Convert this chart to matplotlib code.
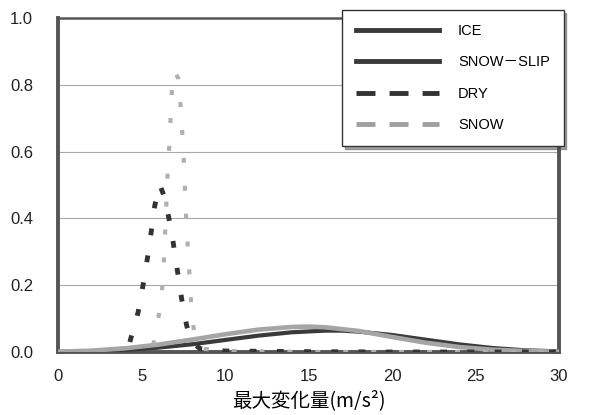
import numpy as np
import matplotlib
matplotlib.use('Agg')
import matplotlib.pyplot as plt

plt.rcParams['font.family'] = ['Liberation Sans', 'Noto Sans CJK JP', 'DejaVu Sans']

# bell shaped series
ice_x = [0, 2, 4, 6, 8, 10, 12, 14, 16, 17, 18, 20, 22, 24, 26, 28, 30]
ice_y = [0.0, 0.002, 0.006, 0.013, 0.023, 0.036, 0.049, 0.059, 0.064, 0.064,
         0.061, 0.051, 0.037, 0.023, 0.012, 0.005, 0.002]

slip_x = [0, 2, 4, 6, 8, 10, 12, 14, 15, 16, 18, 20, 22, 24, 26, 28, 30]
slip_y = [0.001, 0.004, 0.011, 0.022, 0.037, 0.053, 0.067, 0.075, 0.076, 0.074,
          0.063, 0.045, 0.028, 0.015, 0.007, 0.003, 0.001]

# narrow peaks
dry_x = [4.3, 4.8, 5.2, 5.5, 5.8, 6.1, 6.4, 6.8, 7.1, 7.4, 7.7, 8.0, 8.5, 10, 15, 20, 25, 30]
dry_y = [0.03, 0.12, 0.23, 0.33, 0.44, 0.50, 0.46, 0.36, 0.26, 0.16, 0.08, 0.03,
         0.01, 0.003, 0.001, 0.0, 0.0, 0.0]

snow_x = [5.7, 6.0, 6.2, 6.35, 6.45, 6.55, 6.7, 6.8, 6.95, 7.2, 7.35, 7.5, 7.6,
          7.7, 7.85, 8.0, 8.2, 8.6, 10, 15, 20, 25, 30]
snow_y = [0.02, 0.10, 0.16, 0.28, 0.40, 0.52, 0.65, 0.77, 0.84, 0.82, 0.73, 0.61,
          0.49, 0.37, 0.25, 0.12, 0.04, 0.01, 0.003, 0.0, 0.0, 0.0, 0.0]

labels = ['ICE', 'SNOW－SLIP', 'DRY', 'SNOW']
xticks = [0, 5, 10, 15, 20, 25, 30]
yticks = [0.0, 0.2, 0.4, 0.6, 0.8, 1.0]

fig = plt.figure(figsize=(5.89, 4.15), dpi=100)
ax = fig.add_axes([0.0985, 0.1518, 0.8506, 0.805])

for yy in yticks[1:-1]:
    ax.axhline(yy, color='#a8a8a8', lw=0.8, zorder=1)

l1, = ax.plot(ice_x, ice_y, color='#3a3a3a', lw=3, zorder=3)
l2, = ax.plot(slip_x, slip_y, color='#a5a5a5', lw=3.3, zorder=3)
l3, = ax.plot(dry_x, dry_y, color='#333333', lw=3.5, ls=(0, (1.4, 4.2)), zorder=4)
l4, = ax.plot(snow_x, snow_y, color='#b0b0b0', lw=3, ls=(0, (1.2, 5.5)), zorder=4)

ax.set_xlim(0, 30)
ax.set_ylim(0, 1.0)
ax.set_xticks(xticks)
ax.set_yticks(yticks)
ax.set_yticklabels(['{:.1f}'.format(v) for v in yticks])
ax.tick_params(length=0, labelsize=12, colors='#222222')
ax.tick_params(axis='y', pad=18)
ax.tick_params(axis='x', pad=12)
for s in ['left', 'bottom', 'right']:
    ax.spines[s].set_linewidth(2.8)
    ax.spines[s].set_color('#555555')
ax.spines['top'].set_linewidth(1.8)
ax.spines['top'].set_color('#555555')

ax.set_xlabel('最大変化量(m/s²)', fontsize=14, family=['Noto Sans CJK JP', 'DejaVu Sans'], labelpad=5)

# legend handles drawn dark like in the original key
h1, = ax.plot([], [], color='#3a3a3a', lw=3.5)
h2, = ax.plot([], [], color='#3a3a3a', lw=3.5)
h3, = ax.plot([], [], color='#333333', lw=3.5, ls=(0, (3.9, 2.9)))
h4, = ax.plot([], [], color='#a0a0a0', lw=3.5, ls=(0, (3.9, 2.9)))
leg = fig.legend([h1, h2, h3, h4], labels, loc='upper left',
                 bbox_to_anchor=(342 / 589, 1 - 10 / 415), fontsize=10.5,
                 handlelength=5.7, handletextpad=1.3, labelspacing=1.2,
                 borderpad=0.95, frameon=True, fancybox=False, shadow=True,
                 borderaxespad=0)
leg.get_frame().set_edgecolor('#333333')
leg.get_frame().set_linewidth(1.0)

fig.savefig('out.png', dpi=100)
